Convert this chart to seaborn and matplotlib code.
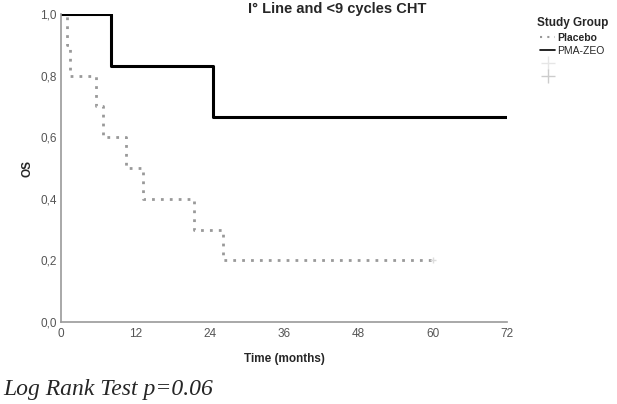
import matplotlib
matplotlib.use("Agg")
import matplotlib.pyplot as plt
from matplotlib.lines import Line2D
from matplotlib.ticker import FuncFormatter
import seaborn as sns

# Kaplan-Meier steps
placebo_t = [0, 1.0, 1.4, 5.6, 6.8, 10.5, 13.2, 21.5, 26.1, 60]
placebo_s = [1.0, 0.9, 0.8, 0.7, 0.6, 0.5, 0.4, 0.3, 0.2, 0.2]
pma_t = [0, 8, 24.5, 72]
pma_s = [1.0, 0.833, 0.667, 0.667]
x_ticks = [0, 12, 24, 36, 48, 60, 72]
y_ticks = [0.0, 0.2, 0.4, 0.6, 0.8, 1.0]

sns.set_style("white")
plt.rcParams['font.family'] = ['Liberation Sans', 'DejaVu Sans']

fig = plt.figure(figsize=(6.17, 4.04), dpi=100)
ax = fig.add_axes([0.099, 0.203, 0.723, 0.762])

sns.lineplot(x=placebo_t, y=placebo_s, ax=ax, drawstyle='steps-post', estimator=None,
             color='#999999', linewidth=2.0, linestyle=(0, (1, 2.2)))
sns.lineplot(x=pma_t, y=pma_s, ax=ax, drawstyle='steps-post', estimator=None,
             color='black', linewidth=2.2)
# censor mark at the end of follow-up
ax.plot([placebo_t[-1]], [placebo_s[-1]], marker='+', color='#dddddd', markersize=5, linestyle='none')

ax.set_xlim(0, 72)
ax.set_ylim(0, 1.0)
ax.set_xticks(x_ticks)
ax.set_yticks(y_ticks)
ax.yaxis.set_major_formatter(FuncFormatter(lambda v, p: f"{v:.1f}".replace('.', ',')))
ax.tick_params(axis='both', length=0, labelsize=8.5, labelcolor='#555555')
ax.tick_params(axis='x', pad=4)
ax.tick_params(axis='y', pad=3)
for s in ['top', 'right']:
    ax.spines[s].set_visible(False)
for s in ['left', 'bottom']:
    ax.spines[s].set_color('#999999')
    ax.spines[s].set_linewidth(1.2)

ax.set_xlabel("Time (months)", fontsize=8.5, fontweight='bold', labelpad=10)
ax.set_ylabel("OS", fontsize=8.5, fontweight='bold', labelpad=5)

fig.text(0.546, 0.978, "I° Line and <9 cycles CHT", fontsize=10.5, fontweight='bold',
         ha='center', va='center')

handles = [
    Line2D([], [], color='#999999', linewidth=1.5, linestyle=(0, (1, 2.5))),
    Line2D([], [], color='black', linewidth=1.2),
    Line2D([], [], color='#e6e6e6', marker='+', linestyle='none', markersize=10),
    Line2D([], [], color='#cccccc', marker='+', linestyle='none', markersize=10),
]
leg = fig.legend(handles, ['Placebo', 'PMA-ZEO', '', ''], title='Study Group',
                 loc='upper left', bbox_to_anchor=(0.858, 0.975), frameon=False,
                 fontsize=7.5, title_fontsize=8.5, handlelength=1.4, handletextpad=0.2,
                 labelspacing=0.3, borderpad=0.2)
leg.get_title().set_fontweight('bold')
leg.texts[0].set_fontweight('bold')

fig.text(0.005, 0.035, "Log Rank Test p=0.06", fontsize=17, fontstyle='italic',
         family=['Liberation Serif', 'DejaVu Serif'], ha='left', va='center')

fig.savefig("out.png", dpi=100)
